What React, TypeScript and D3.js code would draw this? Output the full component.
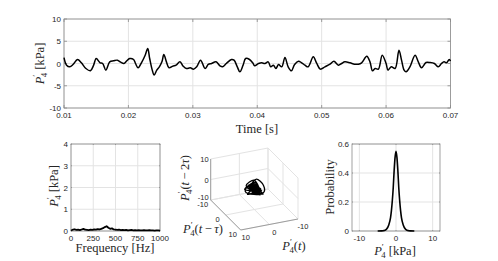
import * as d3 from "d3";

// pressure trace P'4
const times = [
  0.0100, 0.0104, 0.0109, 0.0114, 0.0121, 0.0127, 0.0134, 0.0141, 0.0146, 0.0150,
  0.0156, 0.0160, 0.0165, 0.0171, 0.0177, 0.0183, 0.0188, 0.0193, 0.0197, 0.0202,
  0.0208, 0.0211, 0.0215, 0.0221, 0.0226, 0.0230, 0.0233, 0.0237, 0.0240, 0.0244,
  0.0248, 0.0252, 0.0255, 0.0259, 0.0263, 0.0269, 0.0274, 0.0280, 0.0285, 0.0290,
  0.0296, 0.0301, 0.0306, 0.0312, 0.0319, 0.0324, 0.0329, 0.0336, 0.0342, 0.0346,
  0.0352, 0.0360, 0.0364, 0.0369, 0.0373, 0.0378, 0.0382, 0.0388, 0.0393, 0.0396,
  0.0402, 0.0407, 0.0412, 0.0417, 0.0421, 0.0425, 0.0429, 0.0433, 0.0438, 0.0443,
  0.0448, 0.0453, 0.0458, 0.0464, 0.0469, 0.0474, 0.0479, 0.0487, 0.0492, 0.0498,
  0.0505, 0.0513, 0.0519, 0.0526, 0.0531, 0.0536, 0.0544, 0.0551, 0.0557, 0.0562,
  0.0570, 0.0575, 0.0579, 0.0583, 0.0588, 0.0594, 0.0600, 0.0603, 0.0608, 0.0614,
  0.0620, 0.0624, 0.0628, 0.0631, 0.0637, 0.0645, 0.0650, 0.0655, 0.0662, 0.0668,
  0.0675, 0.0681, 0.0686, 0.0690, 0.0694, 0.0698, 0.0700,
];
const pressure = [
  1.34, -0.37, -0.75, -0.22, 0.9, 0.15, -1.12, -1.64, -0.37, 1.12,
  0.15, 0, -1.49, 0.37, 0.6, 0.75, 0.3, 0, 0.52, 1.12,
  0.9, 0, -0.97, 0.37, 1.87, 3.36, 1.12, -1.49, -2.61, -1.49,
  -0.75, 0.37, 2.01, 0.37, -0.97, -0.6, -0.37, 0.37, -0.6, -1.12,
  -0.97, -1.27, -0.75, 0.75, -1.12, -0.22, 0, 0.37, -0.52, -0.75,
  0, 0.9, 0.75, -0.75, -1.87, -0.37, 1.12, 0.9, 0.15, -0.52,
  0, 0.15, 0, 0.37, -0.75, -0.37, -1.12, -0.22, -0.75, 1.34,
  -0.75, -1.64, -0.22, 0.52, 0.15, -0.37, -0.75, 1.49, 0.15, -1.27,
  -0.75, -0.15, 0.52, -0.37, 0, 0.37, 0.15, -0.15, -0.15, 0.15,
  1.64, 0.37, -1.64, -1.12, -1.27, 1.87, 0, -1.49, -0.75, -1.12,
  2.99, 0.75, -1.49, -1.87, -0.75, 1.87, 0.37, -0.97, 0.22, 0.22,
  0, -0.75, 0, 0.37, 0.15, 0.9, 0.52,
];
const timeTicks = [0.01, 0.02, 0.03, 0.04, 0.05, 0.06, 0.07];
const pressureTicks = [-10, -5, 0, 5, 10];

// amplitude spectrum
const freqs = [
  0, 20, 40, 60, 80, 100, 120, 140, 160, 180, 200, 220, 240, 260, 280, 300, 320,
  340, 360, 380, 400, 420, 440, 460, 480, 500, 520, 540, 560, 580, 600, 620, 640,
  660, 680, 700, 720, 740, 760, 780, 800, 820, 840, 860, 880, 900, 920, 940, 960,
  980, 1000,
];
const amplitude = [
  0.02, 0.06, 0.08, 0.05, 0.06, 0.04, 0.07, 0.1, 0.06, 0.05, 0.04, 0.06, 0.05,
  0.07, 0.06, 0.09, 0.07, 0.1, 0.13, 0.18, 0.22, 0.15, 0.1, 0.12, 0.07, 0.06,
  0.05, 0.06, 0.04, 0.05, 0.04, 0.05, 0.03, 0.04, 0.05, 0.03, 0.04, 0.03, 0.04,
  0.03, 0.03, 0.04, 0.03, 0.03, 0.04, 0.03, 0.03, 0.02, 0.03, 0.03, 0.02,
];
const freqTicks = [0, 250, 500, 750, 1000];
const ampTicks = [0, 1, 2, 3, 4];

// probability density
const pdfX = [-5, -4, -3.5, -3, -2.5, -2, -1.5, -1.25, -1, -0.75, -0.5, -0.25, 0,
  0.25, 0.5, 0.75, 1, 1.25, 1.5, 2, 2.5, 3, 3.5, 4, 5];
const pdfY = [0, 0.001, 0.002, 0.005, 0.015, 0.04, 0.09, 0.14, 0.21, 0.3, 0.42,
  0.51, 0.55, 0.51, 0.42, 0.3, 0.21, 0.14, 0.09, 0.04, 0.015, 0.005, 0.002, 0.001, 0];
const probTicks = [0, 0.2, 0.4, 0.6];
const pdfTicks = [-10, 0, 10];

const phaseTicks = [-10, 0, 10];
const DELAY = 2; // samples

const TICK_FONT = "Liberation Sans, Arial, sans-serif";
const LABEL_FONT = "Liberation Serif, Times New Roman, serif";
const GRID = "#e3e3e3";
const BOX = "#8a8a8a";
const TXT = "#262626";

if (typeof document !== "undefined") document.body.style.margin = "0";

type Seg = [string, boolean];

function PLabel({ fs, rest }: { fs: number; rest: Seg[] }) {
  return (
    <>
      <tspan fontStyle="italic">P</tspan>
      <tspan dy={-0.38 * fs} fontSize={0.7 * fs}>′</tspan>
      <tspan dx={-0.2 * fs} dy={0.62 * fs} fontSize={0.7 * fs}>4</tspan>
      <tspan dy={-0.24 * fs}>{rest[0][0]}</tspan>
      {rest.slice(1).map(([s, it], i) => (
        <tspan key={i} fontStyle={it ? "italic" : "normal"}>{s}</tspan>
      ))}
    </>
  );
}

function Frame({ x, y, xt, yt, xf, yf, tick }: any) {
  const [x0, x1] = x.range();
  const [y0, y1] = y.range();
  return (
    <g>
      {xt.map((v: number) => (
        <line key={"gx" + v} x1={x(v)} x2={x(v)} y1={y0} y2={y1} stroke={GRID} />
      ))}
      {yt.map((v: number) => (
        <line key={"gy" + v} x1={x0} x2={x1} y1={y(v)} y2={y(v)} stroke={GRID} />
      ))}
      <rect x={x0} y={y1} width={x1 - x0} height={y0 - y1} fill="none" stroke={BOX} strokeWidth={0.8} />
      {xt.map((v: number) => (
        <g key={"tx" + v}>
          <line x1={x(v)} x2={x(v)} y1={y0} y2={y0 - tick} stroke={BOX} strokeWidth={0.8} />
          <line x1={x(v)} x2={x(v)} y1={y1} y2={y1 + tick} stroke={BOX} strokeWidth={0.8} />
          <text x={x(v)} y={y0 + 10} textAnchor="middle" fontSize={8} fontFamily={TICK_FONT} fill={TXT}>
            {xf(v)}
          </text>
        </g>
      ))}
      {yt.map((v: number) => (
        <g key={"ty" + v}>
          <line x1={x0} x2={x0 + tick} y1={y(v)} y2={y(v)} stroke={BOX} strokeWidth={0.8} />
          <line x1={x1} x2={x1 - tick} y1={y(v)} y2={y(v)} stroke={BOX} strokeWidth={0.8} />
          <text x={x0 - 3} y={y(v) + 3} textAnchor="end" fontSize={8} fontFamily={TICK_FONT} fill={TXT}>
            {yf(v)}
          </text>
        </g>
      ))}
    </g>
  );
}

export default function App() {
  const W = 498;
  const H = 261;

  // top: time trace
  const xT = d3.scaleLinear().domain([0.01, 0.07]).range([64, 450.5]);
  const yT = d3.scaleLinear().domain([-10, 10]).range([108, 19]);
  const trace = d3
    .line<number>()
    .x((_, i) => xT(times[i]))
    .y((d) => yT(d))
    .curve(d3.curveCatmullRom)(pressure);

  // bottom-left: spectrum
  const xF = d3.scaleLinear().domain([0, 1000]).range([71, 160]);
  const yF = d3.scaleLinear().domain([0, 4]).range([231, 144]);
  const spec = d3
    .line<number>()
    .x((_, i) => xF(freqs[i]))
    .y((d) => yF(d))(amplitude);

  // bottom-right: pdf
  const xP = d3.scaleLinear().domain([-12, 12]).range([352, 440]);
  const yP = d3.scaleLinear().domain([0, 0.6]).range([231, 144]);
  const pdf = d3
    .line<number>()
    .x((_, i) => xP(pdfX[i]))
    .y((d) => yP(d))
    .curve(d3.curveMonotoneX)(pdfY);

  // middle: phase portrait, oblique projection
  const ax = d3.scaleLinear().domain([-10, 10]).range([28.65, -28.65]); // P(t) -> screen x
  const ay = d3.scaleLinear().domain([-10, 10]).range([-5.5, 5.5]); // P(t) -> screen y
  const bx = d3.scaleLinear().domain([-10, 10]).range([-15, 15]); // P(t-tau)
  const by = d3.scaleLinear().domain([-10, 10]).range([-15, 15]);
  const cz = d3.scaleLinear().domain([-10, 10]).range([20.5, -20.5]); // P(t-2tau)
  const CX = 254.35;
  const CY = 189;
  const proj = (a: number, b: number, c: number): [number, number] => [
    CX + ax(a) + bx(b),
    CY + ay(a) + by(b) + cz(c),
  ];
  const seg = (p: [number, number], q: [number, number], key: string, stroke = GRID, w = 1) => (
    <line key={key} x1={p[0]} y1={p[1]} x2={q[0]} y2={q[1]} stroke={stroke} strokeWidth={w} />
  );
  const grid3d: any[] = [];
  phaseTicks.forEach((v) => {
    // wall P(t) = -10
    grid3d.push(seg(proj(-10, v, -10), proj(-10, v, 10), "a" + v));
    grid3d.push(seg(proj(-10, -10, v), proj(-10, 10, v), "b" + v));
    // wall P(t-tau) = -10
    grid3d.push(seg(proj(v, -10, -10), proj(v, -10, 10), "c" + v));
    grid3d.push(seg(proj(-10, -10, v), proj(10, -10, v), "d" + v));
    // floor
    grid3d.push(seg(proj(v, -10, -10), proj(v, 10, -10), "e" + v));
    grid3d.push(seg(proj(-10, v, -10), proj(10, v, -10), "f" + v));
  });
  const embed: [number, number][] = [];
  for (let i = 2 * DELAY; i < pressure.length; i++) {
    embed.push(proj(pressure[i], pressure[i - DELAY], pressure[i - 2 * DELAY]));
  }
  const phase = d3.line().curve(d3.curveCatmullRom)(embed);

  const fmt = (v: number) => String(v);

  return (
    <svg width={W} height={H} style={{ display: "block", background: "#fff" }}>
      {/* top panel */}
      <Frame x={xT} y={yT} xt={timeTicks} yt={pressureTicks} xf={fmt} yf={fmt} tick={3} />
      <path d={trace ?? ""} fill="none" stroke="#000" strokeWidth={1.5} />
      <text x={257} y={133} textAnchor="middle" fontSize={12.5} fontFamily={LABEL_FONT} fill={TXT}>
        Time [s]
      </text>
      <text transform="translate(44,63.5) rotate(-90)" textAnchor="middle" fontSize={12.5} fontFamily={LABEL_FONT} fill={TXT}>
        <PLabel fs={12.5} rest={[[" [kPa]", false]]} />
      </text>

      {/* spectrum */}
      <Frame x={xF} y={yF} xt={freqTicks} yt={ampTicks} xf={fmt} yf={fmt} tick={1} />
      <path d={spec ?? ""} fill="none" stroke="#000" strokeWidth={1.8} strokeLinejoin="round" />
      <text x={115} y={252} textAnchor="middle" fontSize={12.5} fontFamily={LABEL_FONT} fill={TXT}>
        Frequency [Hz]
      </text>
      <text transform="translate(58,186) rotate(-90)" textAnchor="middle" fontSize={12.5} fontFamily={LABEL_FONT} fill={TXT}>
        <PLabel fs={12.5} rest={[[" [kPa]", false]]} />
      </text>

      {/* phase portrait */}
      <g>
        {grid3d}
        {seg(proj(10, -10, -10), proj(10, -10, 10), "zaxis", BOX, 0.8)}
        {seg(proj(10, -10, -10), proj(10, 10, -10), "baxis", BOX, 0.8)}
        {seg(proj(10, 10, -10), proj(-10, 10, -10), "aaxis", BOX, 0.8)}
        {phaseTicks.map((v) => {
          const [zx, zy] = proj(10, -10, v);
          const [bxp, byp] = proj(10, v, -10);
          const [axp, ayp] = proj(v, 10, -10);
          return (
            <g key={"pt" + v} fontSize={7.5} fontFamily={TICK_FONT} fill={TXT}>
              <text x={zx - 2} y={zy + (v === -10 ? 0 : 3)} textAnchor="end">{v}</text>
              <text x={bxp - 8} y={byp + 7} textAnchor="middle">{v}</text>
              <text x={axp + 5} y={ayp + 10} textAnchor="middle">{v}</text>
            </g>
          );
        })}
        <path d={phase ?? ""} fill="none" stroke="#000" strokeWidth={1.3} />
      </g>
      <text x={294} y={250} textAnchor="middle" fontSize={12.5} fontFamily={LABEL_FONT} fill={TXT}>
        <PLabel fs={12.5} rest={[["(", false], ["t", true], [")", false]]} />
      </text>
      <text x={203} y={233} textAnchor="middle" fontSize={12.5} fontFamily={LABEL_FONT} fill={TXT}>
        <PLabel fs={12.5} rest={[["(", false], ["t", true], ["\u2009−\u2009", false], ["τ", true], [")", false]]} />
      </text>
      <text transform="translate(189,178) rotate(-90)" textAnchor="middle" fontSize={12.5} fontFamily={LABEL_FONT} fill={TXT}>
        <PLabel fs={12.5} rest={[["(", false], ["t", true], ["\u2009−\u20092", false], ["τ", true], [")", false]]} />
      </text>

      {/* pdf */}
      <Frame x={xP} y={yP} xt={pdfTicks} yt={probTicks} xf={fmt} yf={fmt} tick={1} />
      <path d={pdf ?? ""} fill="none" stroke="#000" strokeWidth={1.6} />
      <text x={395} y={255} textAnchor="middle" fontSize={12.5} fontFamily={LABEL_FONT} fill={TXT}>
        <PLabel fs={12.5} rest={[[" [kPa]", false]]} />
      </text>
      <text transform="translate(334,187) rotate(-90)" textAnchor="middle" fontSize={12.5} fontFamily={LABEL_FONT} fill={TXT}>
        Probability
      </text>
    </svg>
  );
}
